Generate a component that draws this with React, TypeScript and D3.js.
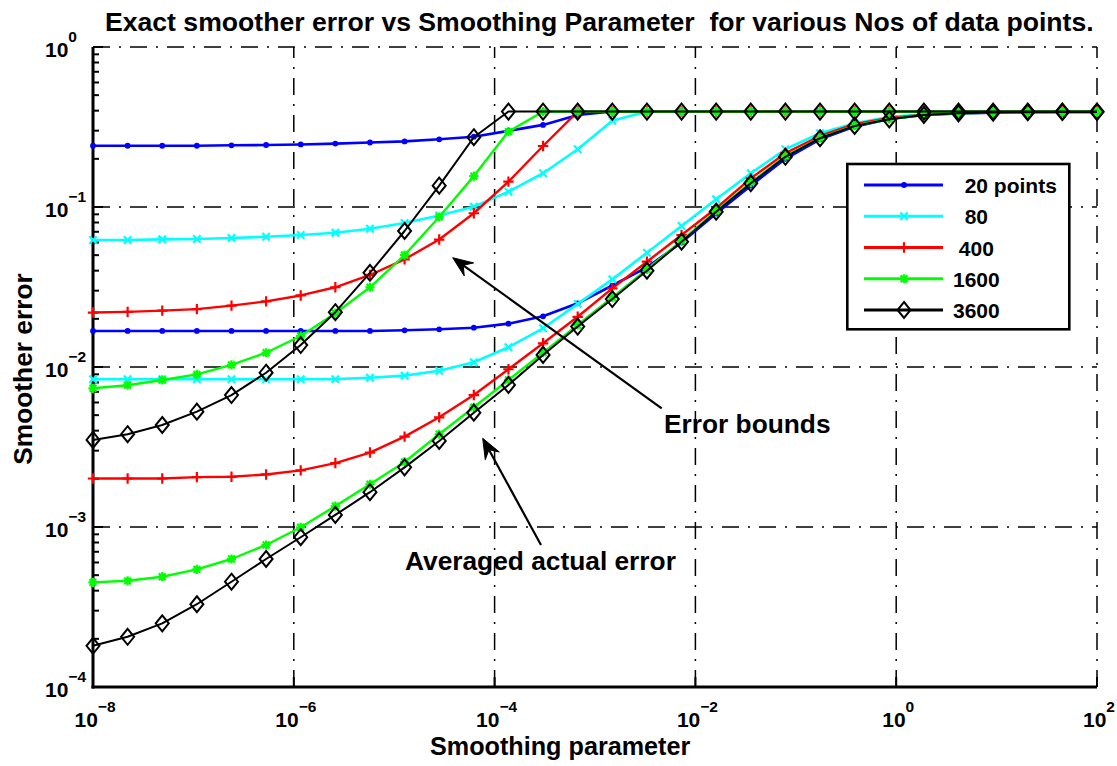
import React from 'react';
import * as d3 from 'd3';

// smoothing parameter sample points (30 log-spaced values, 1e-8 .. 1e2)
const X_VALUES = [
  1e-8, 2.212e-8, 4.894e-8, 1.083e-7, 2.395e-7, 5.298e-7, 1.172e-6, 2.593e-6, 5.736e-6, 1.269e-5,
  2.807e-5, 6.21e-5, 1.374e-4, 3.039e-4, 6.723e-4, 1.487e-3, 3.29e-3, 7.279e-3, 1.61e-2, 3.562e-2,
  7.88e-2, 0.1743, 0.3857, 0.8532, 1.887, 4.175, 9.237, 20.43, 45.2, 100,
];

// Error bounds (upper curves)
const BOUND_20 = [0.2415, 0.2415, 0.2415, 0.2415, 0.243, 0.244, 0.246, 0.249, 0.253, 0.257, 0.265, 0.275, 0.299, 0.326, 0.376, 0.395, 0.395, 0.395, 0.395, 0.395, 0.395, 0.395, 0.395, 0.395, 0.395, 0.395, 0.395, 0.395, 0.395, 0.395];
const BOUND_80 = [0.0622, 0.0622, 0.0628, 0.0631, 0.064, 0.0652, 0.0668, 0.0691, 0.0732, 0.0794, 0.0885, 0.1004, 0.1247, 0.1625, 0.2295, 0.346, 0.395, 0.395, 0.395, 0.395, 0.395, 0.395, 0.395, 0.395, 0.395, 0.395, 0.395, 0.395, 0.395, 0.395];
const BOUND_400 = [0.0219, 0.0221, 0.0225, 0.023, 0.0242, 0.0257, 0.028, 0.0315, 0.0376, 0.0471, 0.0626, 0.0914, 0.144, 0.2406, 0.395, 0.395, 0.395, 0.395, 0.395, 0.395, 0.395, 0.395, 0.395, 0.395, 0.395, 0.395, 0.395, 0.395, 0.395, 0.395];
const BOUND_1600 = [0.00736, 0.00769, 0.0083, 0.009, 0.0103, 0.01228, 0.01563, 0.0217, 0.0315, 0.0501, 0.0866, 0.156, 0.296, 0.395, 0.395, 0.395, 0.395, 0.395, 0.395, 0.395, 0.395, 0.395, 0.395, 0.395, 0.395, 0.395, 0.395, 0.395, 0.395, 0.395];
const BOUND_3600 = [0.0035, 0.0038, 0.00434, 0.00526, 0.00668, 0.00921, 0.01372, 0.022, 0.0388, 0.0708, 0.136, 0.273, 0.395, 0.395, 0.395, 0.395, 0.395, 0.395, 0.395, 0.395, 0.395, 0.395, 0.395, 0.395, 0.395, 0.395, 0.395, 0.395, 0.395, 0.395];

// Averaged actual error (lower curves)
const ACTUAL_20 = [0.0168, 0.0168, 0.0168, 0.0168, 0.0168, 0.0168, 0.0168, 0.0168, 0.0168, 0.01696, 0.0172, 0.0176, 0.01866, 0.02074, 0.025, 0.0323, 0.042, 0.06, 0.091, 0.136, 0.2, 0.265, 0.318, 0.355, 0.376, 0.384, 0.389, 0.392, 0.392, 0.392];
const ACTUAL_80 = [0.00838, 0.00838, 0.00838, 0.00838, 0.00838, 0.00838, 0.00838, 0.0084, 0.00857, 0.00883, 0.00948, 0.0107, 0.0133, 0.01746, 0.0248, 0.0353, 0.0518, 0.0761, 0.1117, 0.1625, 0.2295, 0.289, 0.334, 0.365, 0.379, 0.386, 0.39, 0.392, 0.392, 0.392];
const ACTUAL_400 = [0.00201, 0.00201, 0.00201, 0.00205, 0.00206, 0.00213, 0.00226, 0.00251, 0.00292, 0.00367, 0.00485, 0.00668, 0.00968, 0.01406, 0.0206, 0.031, 0.0455, 0.0668, 0.0982, 0.151, 0.217, 0.278, 0.329, 0.36, 0.378, 0.385, 0.39, 0.392, 0.392, 0.392];
const ACTUAL_1600 = [0.000451, 0.000461, 0.000489, 0.000544, 0.000631, 0.000772, 0.000996, 0.00135, 0.00185, 0.00255, 0.0038, 0.0056, 0.0083, 0.0123, 0.0183, 0.0272, 0.0407, 0.0616, 0.0944, 0.142, 0.208, 0.27, 0.322, 0.355, 0.376, 0.385, 0.389, 0.392, 0.392, 0.392];
const ACTUAL_3600 = [0.000181, 0.000206, 0.00025, 0.000329, 0.000455, 0.000631, 0.000863, 0.00119, 0.00165, 0.00236, 0.00345, 0.00518, 0.00772, 0.0119, 0.0179, 0.0266, 0.04, 0.0607, 0.0935, 0.1407, 0.206, 0.269, 0.321, 0.353, 0.376, 0.385, 0.389, 0.391, 0.393, 0.393];

const SERIES_LABELS = ['  20 points', '  80', ' 400', '1600', '3600'];
const X_TICK_EXPONENTS = [-8, -6, -4, -2, 0, 2];
const Y_TICK_EXPONENTS = [0, -1, -2, -3, -4];

const TITLE = 'Exact smoother error vs Smoothing Parameter  for various Nos of data points.';
const X_LABEL = 'Smoothing parameter';
const Y_LABEL = 'Smoother error';
const NOTE_BOUNDS = 'Error bounds';
const NOTE_ACTUAL = 'Averaged actual error';

const SERIES = [
  { label: SERIES_LABELS[0], color: '#0000ff', marker: 'dot', width: 2.6, bound: BOUND_20, actual: ACTUAL_20 },
  { label: SERIES_LABELS[1], color: '#00ffff', marker: 'x', width: 2.6, bound: BOUND_80, actual: ACTUAL_80 },
  { label: SERIES_LABELS[2], color: '#ff0000', marker: 'plus', width: 2.4, bound: BOUND_400, actual: ACTUAL_400 },
  { label: SERIES_LABELS[3], color: '#00ff00', marker: 'star', width: 2.4, bound: BOUND_1600, actual: ACTUAL_1600 },
  { label: SERIES_LABELS[4], color: '#000000', marker: 'diamond', width: 2, bound: BOUND_3600, actual: ACTUAL_3600 },
];

const FONT = '"Liberation Sans", Arial, Helvetica, sans-serif';
const W = 1117;
const H = 766;
const L = 93, R = 1097, T = 47, B = 687;
const GRID_DASH = '17,9,2,9';

function Marker({ type, x, y, color }: { type: string; x: number; y: number; color: string }) {
  if (type === 'dot') return <circle cx={x} cy={y} r={2.9} fill={color} />;
  if (type === 'x') {
    const a = 3.7;
    return (
      <path d={`M${x - a},${y - a}L${x + a},${y + a}M${x - a},${y + a}L${x + a},${y - a}`} stroke={color} strokeWidth={2.2} fill="none" />
    );
  }
  if (type === 'plus') {
    const a = 5.2;
    return <path d={`M${x - a},${y}L${x + a},${y}M${x},${y - a}L${x},${y + a}`} stroke={color} strokeWidth={2.2} fill="none" />;
  }
  if (type === 'star') {
    const a = 4.6, b = 3.4;
    return (
      <path
        d={`M${x - a},${y}L${x + a},${y}M${x},${y - a}L${x},${y + a}M${x - b},${y - b}L${x + b},${y + b}M${x - b},${y + b}L${x + b},${y - b}`}
        stroke={color}
        strokeWidth={2.2}
        fill="none"
      />
    );
  }
  // diamond
  return <path d={`M${x},${y - 8}L${x + 6.5},${y}L${x},${y + 8}L${x - 6.5},${y}Z`} stroke={color} strokeWidth={2} fill="none" />;
}

function Arrow({ x1, y1, x2, y2 }: { x1: number; y1: number; x2: number; y2: number }) {
  // line from (x1,y1) to tip (x2,y2)
  const dx = x2 - x1, dy = y2 - y1;
  const len = Math.hypot(dx, dy);
  const ux = dx / len, uy = dy / len;
  const px = -uy, py = ux;
  const hl = 20, hw = 8, notch = 13;
  const bx = x2 - ux * hl, by = y2 - uy * hl;
  const nx = x2 - ux * notch, ny = y2 - uy * notch;
  const head = `M${x2},${y2}L${bx + px * hw},${by + py * hw}L${nx},${ny}L${bx - px * hw},${by - py * hw}Z`;
  return (
    <g>
      <line x1={x1} y1={y1} x2={nx} y2={ny} stroke="#000" strokeWidth={2.2} />
      <path d={head} fill="#000" stroke="#000" strokeWidth={1} />
    </g>
  );
}

export default function App() {
  const x = d3.scaleLog().domain([1e-8, 1e2]).range([L, R]);
  const y = d3.scaleLog().domain([1e-4, 1]).range([B, T]);
  const line = d3
    .line<number>()
    .x((_, i) => x(X_VALUES[i]))
    .y((d) => y(d));

  const minorY: number[] = [];
  for (let k = -4; k < 0; k++) for (let m = 2; m <= 9; m++) minorY.push(m * Math.pow(10, k));

  return (
    <svg width={W} height={H} style={{ display: 'block', position: 'absolute', left: 0, top: 0, background: '#fff' }} fontFamily={FONT}>
      <rect x={0} y={0} width={W} height={H} fill="#fff" />
      {/* grid */}
      {X_TICK_EXPONENTS.filter((e) => e > -8).map((e) => (
        <line key={'gx' + e} x1={x(Math.pow(10, e))} x2={x(Math.pow(10, e))} y1={B} y2={T} stroke="#000" strokeWidth={1.5} strokeDasharray={GRID_DASH} />
      ))}
      {Y_TICK_EXPONENTS.filter((e) => e > -4).map((e) => (
        <line key={'gy' + e} x1={L} x2={R} y1={y(Math.pow(10, e))} y2={y(Math.pow(10, e))} stroke="#000" strokeWidth={1.5} strokeDasharray={GRID_DASH} />
      ))}
      {/* axes */}
      <line x1={L} x2={L} y1={T} y2={B + 1.5} stroke="#000" strokeWidth={3} />
      <line x1={L - 1.5} x2={R} y1={B} y2={B} stroke="#000" strokeWidth={3} />
      {minorY.map((v, i) => (
        <line key={'my' + i} x1={L} x2={L + 6} y1={y(v)} y2={y(v)} stroke="#000" strokeWidth={2} />
      ))}
      {Y_TICK_EXPONENTS.map((e) => (
        <line key={'ty' + e} x1={L} x2={L + 10} y1={y(Math.pow(10, e))} y2={y(Math.pow(10, e))} stroke="#000" strokeWidth={2} />
      ))}
      {X_TICK_EXPONENTS.map((e) => (
        <line key={'tx' + e} x1={x(Math.pow(10, e))} x2={x(Math.pow(10, e))} y1={B} y2={B - 10} stroke="#000" strokeWidth={2} />
      ))}
      {/* tick labels */}
      {Y_TICK_EXPONENTS.map((e) => (
        <text key={'ly' + e} x={45} y={y(Math.pow(10, e)) + 10} fontSize={21} fontWeight="bold" fill="#000">
          10
          <tspan dy={-15} fontSize={15.5}>
            {e < 0 ? '\u2212' + Math.abs(e) : String(e)}
          </tspan>
        </text>
      ))}
      {X_TICK_EXPONENTS.map((e) => (
        <text key={'lx' + e} x={x(Math.pow(10, e)) + 2} y={727} fontSize={21} fontWeight="bold" fill="#000" textAnchor="middle">
          10
          <tspan dy={-15} fontSize={15.5}>
            {e < 0 ? '\u2212' + Math.abs(e) : String(e)}
          </tspan>
        </text>
      ))}
      {/* data */}
      {SERIES.map((s, si) => (
        <g key={'s' + si}>
          {[s.bound, s.actual].map((arr, ai) => (
            <g key={ai}>
              <path d={line(arr) || ''} fill="none" stroke={s.color} strokeWidth={s.width} strokeLinejoin="round" />
              {arr.map((v, i) => (
                <Marker key={i} type={s.marker} x={x(X_VALUES[i])} y={y(v)} color={s.color} />
              ))}
            </g>
          ))}
        </g>
      ))}
      {/* annotations */}
      <Arrow x1={661.7} y1={408.3} x2={452.7} y2={257.7} />
      <Arrow x1={541} y1={545} x2={482.7} y2={438.3} />
      <text x={664} y={433} fontSize={26.3} fontWeight="bold" fill="#000">
        {NOTE_BOUNDS}
      </text>
      <text x={405} y={570} fontSize={26.3} fontWeight="bold" fill="#000">
        {NOTE_ACTUAL}
      </text>
      {/* legend */}
      <rect x={847.3} y={164} width={222} height={165.3} fill="#fff" stroke="#000" strokeWidth={2.6} />
      {SERIES.map((s, i) => {
        const ly = 185 + i * 31.25;
        return (
          <g key={'lg' + i}>
            <line x1={864} x2={943} y1={ly} y2={ly} stroke={s.color} strokeWidth={3} />
            <Marker type={s.marker} x={904} y={ly} color={s.color} />
            <text x={953} y={ly + 8} fontSize={21} fontWeight="bold" fill="#000" xmlSpace="preserve" style={{ whiteSpace: 'pre' }}>
              {s.label}
            </text>
          </g>
        );
      })}
      {/* titles */}
      <text x={105} y={31} fontSize={26.6} fontWeight="bold" fill="#000" xmlSpace="preserve" style={{ whiteSpace: 'pre' }}>
        {TITLE}
      </text>
      <text x={430} y={755} fontSize={25.2} fontWeight="bold" fill="#000">
        {X_LABEL}
      </text>
      <text transform="translate(32,369) rotate(-90)" fontSize={26.3} fontWeight="bold" fill="#000" textAnchor="middle">
        {Y_LABEL}
      </text>
    </svg>
  );
}
